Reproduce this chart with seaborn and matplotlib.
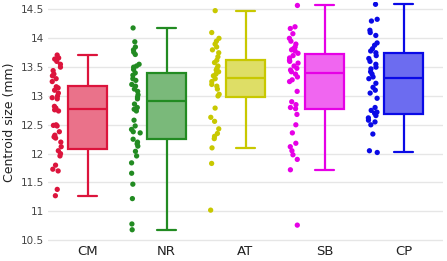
import numpy as np
import pandas as pd
import matplotlib
matplotlib.use("Agg")
import matplotlib.pyplot as plt
import matplotlib.transforms as mtransforms
import seaborn as sns

categories = ["CM", "NR", "AT", "SB", "CP"]
colors = ["#DC143C", "#228B22", "#C8C800", "#E600E6", "#0A0AE6"]

# box statistics: lower whisker, Q1, median, Q3, upper whisker
box_stats = {
    "CM": [11.27, 12.08, 12.78, 13.17, 13.71],
    "NR": [10.68, 12.25, 12.92, 13.40, 14.18],
    "AT": [12.09, 12.98, 13.32, 13.63, 14.48],
    "SB": [11.72, 12.78, 13.40, 13.73, 14.57],
    "CP": [12.03, 12.68, 13.32, 13.75, 14.59],
}

pts_CM = [13.71, 13.66, 13.64, 13.60, 13.55, 13.50, 13.44, 13.38, 13.35, 13.30,
          13.25, 13.16, 13.14, 13.10, 13.05, 13.00, 12.97, 12.95, 12.82, 12.79,
          12.76, 12.74, 12.50, 12.49, 12.48, 12.38, 12.32, 12.29, 12.27, 12.20,
          12.12, 12.05, 12.00, 11.96, 11.80, 11.73, 11.70, 11.38, 11.27]
pts_NR = [14.18, 13.94, 13.85, 13.80, 13.76, 13.72, 13.55, 13.52, 13.50, 13.46,
          13.40, 13.36, 13.30, 13.27, 13.20, 13.17, 13.12, 13.08, 13.02, 12.98,
          12.95, 12.86, 12.80, 12.77, 12.74, 12.58, 12.48, 12.42, 12.38, 12.36,
          12.25, 12.20, 12.17, 12.13, 12.04, 11.96, 11.84, 11.66, 11.47, 11.22,
          10.78, 10.68]
pts_AT = [14.48, 14.10, 14.00, 13.95, 13.90, 13.85, 13.80, 13.75, 13.68, 13.62,
          13.58, 13.52, 13.48, 13.45, 13.42, 13.38, 13.35, 13.30, 13.25, 13.20,
          13.17, 13.12, 13.03, 13.00, 12.79, 12.63, 12.56, 12.43, 12.35, 12.30,
          12.26, 12.10, 11.83, 11.02]
pts_SB = [14.57, 14.20, 14.17, 14.08, 14.00, 13.95, 13.90, 13.85, 13.82, 13.80,
          13.78, 13.74, 13.70, 13.66, 13.62, 13.60, 13.57, 13.52, 13.48, 13.45,
          13.42, 13.38, 13.33, 13.28, 13.25, 13.08, 12.90, 12.85, 12.80, 12.78,
          12.68, 12.50, 12.36, 12.18, 12.12, 12.05, 11.98, 11.90, 11.72, 10.76]
pts_CP = [14.59, 14.33, 14.30, 14.14, 14.10, 14.05, 13.92, 13.88, 13.82, 13.78,
          13.75, 13.70, 13.65, 13.60, 13.55, 13.50, 13.47, 13.42, 13.38, 13.33,
          13.30, 13.22, 13.15, 13.10, 13.05, 12.96, 12.80, 12.75, 12.72, 12.70,
          12.66, 12.62, 12.58, 12.55, 12.50, 12.34, 12.05, 12.02]

points = {"CM": pts_CM, "NR": pts_NR, "AT": pts_AT, "SB": pts_SB, "CP": pts_CP}
yticks = [10.5, 11, 11.5, 12, 12.5, 13, 13.5, 14, 14.5]
ytick_labels = ["10.5", "11", "11.5", "12", "12.5", "13", "13.5", "14", "14.5"]

box_df = pd.DataFrame([(c, v) for c in categories for v in box_stats[c]],
                      columns=["group", "size"])
pt_df = pd.DataFrame([(c, v) for c in categories for v in points[c]],
                     columns=["group", "size"])


def lighten(col, a=0.6):
    r, g, b = matplotlib.colors.to_rgb(col)
    return (1 - a + a * r, 1 - a + a * g, 1 - a + a * b)


sns.set_theme(style="white")
fig = plt.figure(figsize=(4.47, 2.61), dpi=100)
ax = fig.add_axes([48 / 447, 1 - 243 / 261, 395 / 447, 241 / 261])

for c, col in zip(categories, colors):
    sns.boxplot(data=box_df[box_df.group == c], x="group", y="size",
                order=categories, color=lighten(col), linecolor=col,
                linewidth=1.6, width=0.5, saturation=1, whis=1.5,
                showfliers=False, ax=ax, zorder=2)

np.random.seed(3)
n_before = len(ax.collections)
sns.stripplot(data=pt_df, x="group", y="size", order=categories,
              hue="group", hue_order=categories, palette=colors,
              jitter=0.06, size=3.8, linewidth=0, legend=False, ax=ax, zorder=3)
shift = mtransforms.Affine2D().translate(-0.39, 0) + ax.transData
for coll in ax.collections[n_before:]:
    coll.set_offset_transform(shift)

ax.set_xlim(-0.5, 4.5)
ax.set_ylim(10.45, 14.63)
ax.set_yticks(yticks)
ax.set_yticklabels(ytick_labels)
ax.yaxis.grid(True, color="#e6e6e6", linewidth=1, zorder=0)
ax.set_axisbelow(True)
for s in ax.spines.values():
    s.set_visible(False)
ax.tick_params(axis="y", length=0, pad=3, labelsize=7.5, labelcolor="#444444")
ax.tick_params(axis="x", length=0, pad=1.5, labelsize=9.5, labelcolor="#222222")
ax.set_xlabel("")
ax.set_ylabel("Centroid size (mm)", fontsize=9, color="#222222", labelpad=3)

fig.savefig("out.png", dpi=100)
